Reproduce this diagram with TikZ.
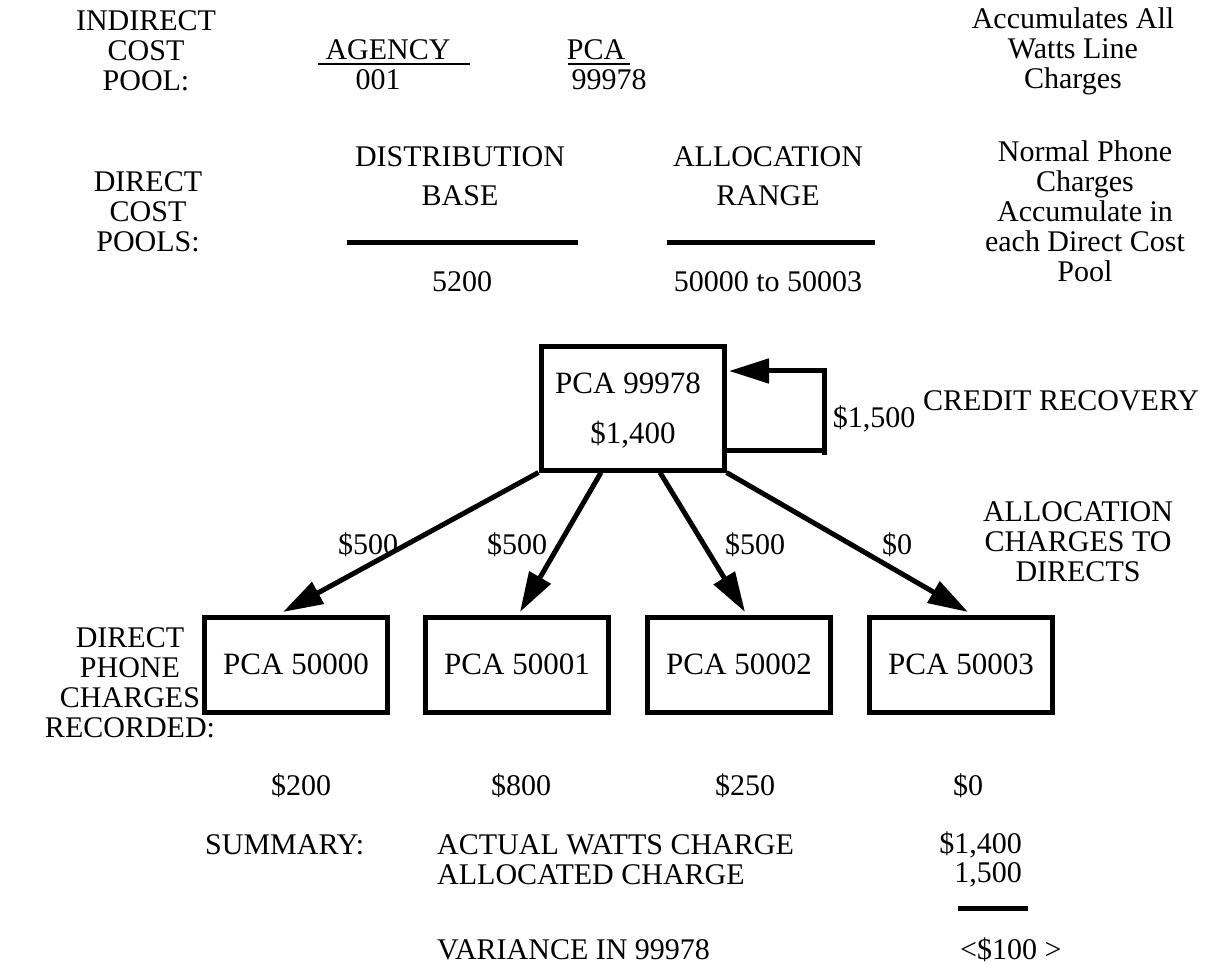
\documentclass[tikz,border=0pt]{standalone}
\usepackage{fontspec}
\setmainfont{Liberation Serif}
\usetikzlibrary{arrows.meta}
\begin{document}
\begin{tikzpicture}[x=1pt,y=-1pt,
  every node/.style={font=\fontsize{30}{30}\selectfont, inner sep=0pt, align=center},
  boxfont/.style={font=\fontsize{31}{31}\selectfont},
  pcabox/.style={draw, line width=5pt, minimum width=183pt, minimum height=95pt, boxfont},
  topbox/.style={draw, line width=5pt, minimum width=183pt, minimum height=123pt},
  heavyrule/.style={line width=5pt},
  thinrule/.style={line width=1.6pt},
  arr/.style={line width=5pt, -{Triangle[length=40pt,width=24pt]}},
  fbline/.style={line width=5pt, line join=miter},
]
\useasboundingbox (0,0) rectangle (1211,968);

% ---- indirect cost pool row
\node (icp) at (146,51) {INDIRECT\\COST\\POOL:};
\node (agency) at (388,50) {AGENCY};
\node (agnum) at (378,80) {001};
\draw[thinrule] (318,64) -- (470,64);
\node (pcah) at (596,50) {PCA};
\node (pcanum) at (609,80) {99978};
\draw[thinrule] (568,64) -- (630,64);
\node (accum) at (1073,51) {Accumulates All\\Watts Line\\Charges};

% ---- direct cost pools row
\node (dcp) at (148,212) {DIRECT\\COST\\POOLS:};
\node (distb) at (460,176) {DISTRIBUTION\\[9pt]BASE};
\draw[heavyrule] (347,243) -- (578,243);
\node (d5200) at (462,282) {5200};
\node (allocr) at (768,176) {ALLOCATION\\[9pt]RANGE};
\draw[heavyrule] (667,243) -- (875,243);
\node (range) at (768,282) {50000 to 50003};
\node (normal) at (1085,211) {Normal Phone\\Charges\\Accumulate in\\each Direct Cost\\Pool};

% ---- top box
\node[topbox] (top) at (632.5,408.5) {};
\node[boxfont] (toptxt1) at (628,383) {PCA 99978};
\node[boxfont] (toptxt2) at (633,435) {\$1,400};

% feedback loop
\coordinate (fbB) at (824,455);
\coordinate (fbT) at (824,371);
\draw[fbline] ([yshift=-41.5pt]top.east) -| (fbB);
\draw[arr] (fbB) -- (fbT) -- ([xshift=2.5pt,yshift=37.5pt]top.east);
\node (v1500) at (874,419) {\$1,500};
\node[anchor=west] (credit) at (923,401) {CREDIT RECOVERY};

% ---- direct boxes
\node[pcabox] (b1) at (296,664.5) {PCA 50000};
\node[pcabox] (b2) at (517,664.5) {PCA 50001};
\node[pcabox] (b3) at (739,664.5) {PCA 50002};
\node[pcabox] (b4) at (961,664.5) {PCA 50003};

% allocation arrows
\draw[arr] (top.south west) -- ([xshift=-13pt,yshift=2.5pt]b1.north);
\draw[arr] ([xshift=-31.5pt]top.south) -- ([xshift=3pt,yshift=2.5pt]b2.north);
\draw[arr] ([xshift=27.5pt]top.south) -- ([xshift=6pt,yshift=2.5pt]b3.north);
\draw[arr] (top.south east) -- ([xshift=7pt,yshift=2.5pt]b4.north);
\node (l1) at (368,545) {\$500};
\node (l2) at (517,545) {\$500};
\node (l3) at (755,545) {\$500};
\node (l4) at (897,545) {\$0};
\node (alloc) at (1078,542) {ALLOCATION\\CHARGES TO\\DIRECTS};

% left label
\node (dpc) at (130,683) {DIRECT\\PHONE\\CHARGES\\RECORDED:};

% amounts
\node (a1) at (301,786) {\$200};
\node (a2) at (521,786) {\$800};
\node (a3) at (745,786) {\$250};
\node (a4) at (968,786) {\$0};

% summary
\node[anchor=west] (summ) at (205,845) {SUMMARY:};
\node[anchor=west] (actual) at (437,845) {ACTUAL WATTS CHARGE};
\node[anchor=west] (allocd) at (437,875) {ALLOCATED CHARGE};
\node[anchor=east] (v1400) at (1022,845) {\$1,400};
\node[anchor=east] (v1500b) at (1022,875) {1,500};
\draw[heavyrule] (958,908) -- (1028,908);
\node[anchor=west] (variance) at (437,950) {VARIANCE IN 99978};
\node[anchor=west] (v100) at (960,950) {<\$100 >};
\end{tikzpicture}
\end{document}
